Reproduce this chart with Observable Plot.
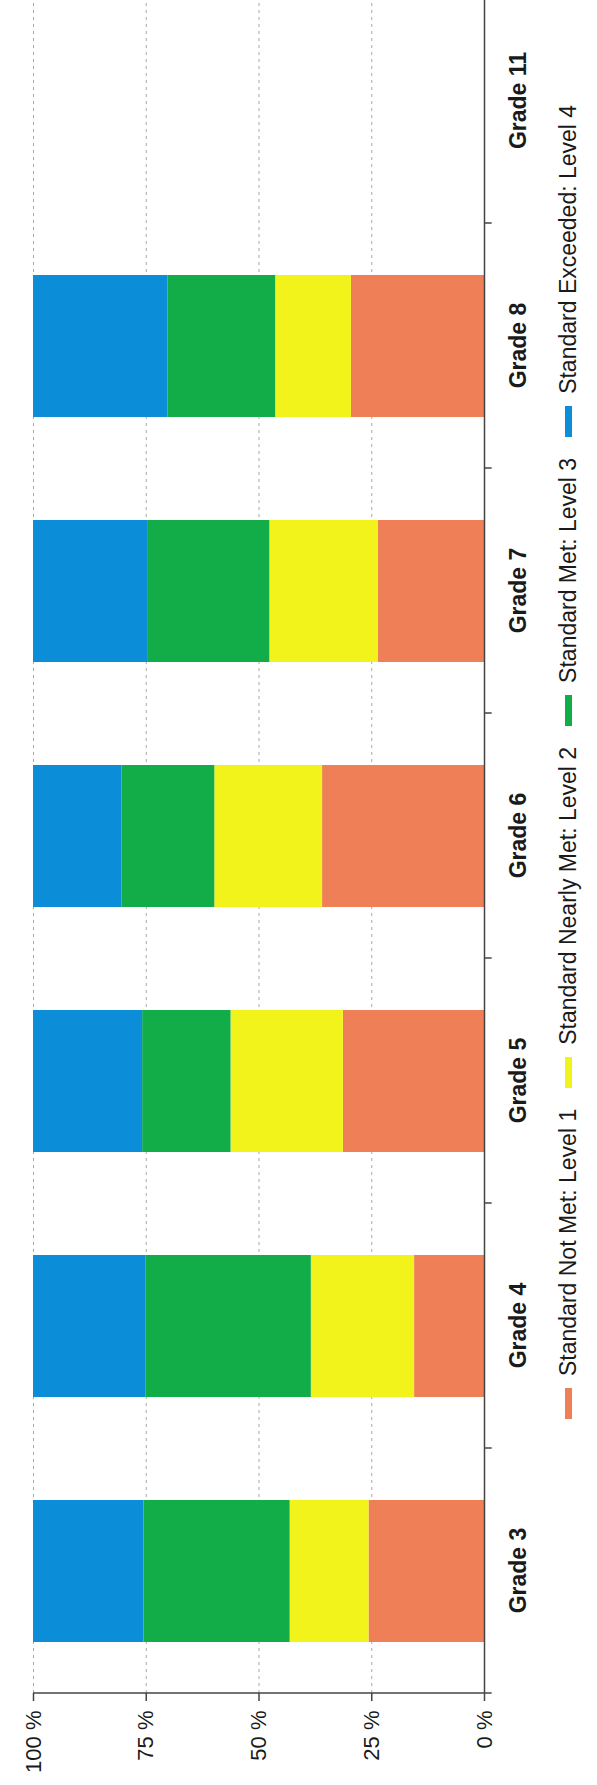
<!DOCTYPE html>
<html><head><meta charset="utf-8">
<script src="https://cdn.jsdelivr.net/npm/d3@7"></script>
<script src="https://cdn.jsdelivr.net/npm/@observablehq/plot@0.6"></script>
<style>
html,body{margin:0;padding:0;background:#fff;overflow:hidden;width:597px;height:1785px;}
#wrap{position:absolute;left:0;top:0;width:1785px;height:597px;transform-origin:0 0;transform:translate(0,1785px) rotate(-90deg);font-family:"Liberation Sans",Arial,sans-serif;background:#fff;}
#legend{position:relative;height:57px;display:flex;align-items:center;padding-left:366px;gap:21px;}
.item{display:flex;align-items:center;font-size:23px;color:#1a1a1a;white-space:nowrap;}
.sw{width:31px;height:7px;margin-right:12px;}
</style></head><body><div id="wrap"></div>
<script>
const grades = ["Grade 3","Grade 4","Grade 5","Grade 6","Grade 7","Grade 8","Grade 11"];
const levels = ["Standard Not Met: Level 1","Standard Nearly Met: Level 2","Standard Met: Level 3","Standard Exceeded: Level 4"];
const levelColors = ["#ee7f56","#f3f31c","#12ad49","#0b8ed7"];
const notMet     = [25.6, 15.5, 31.3, 35.9, 23.5, 29.5, null];
const nearlyMet  = [17.5, 22.9, 24.9, 23.9, 24.1, 16.8, null];
const met        = [32.4, 36.7, 19.6, 20.6, 27.1, 23.9, null];
const exceeded   = [24.5, 24.9, 24.2, 19.6, 25.3, 29.8, null];
const yTicks = [0, 25, 50, 75, 100];

const series = [notMet, nearlyMet, met, exceeded];
const data = [];
grades.forEach((g, i) => series.forEach((s, j) => {
  if (s[i] != null) data.push({grade: g, level: levels[j], value: s[i]});
}));

const xRange = [92, 1807];
const step = (xRange[1] - xRange[0]) / grades.length;

const chart = Plot.plot({
  width: 1785, height: 540,
  marginLeft: 92, marginRight: 0, marginTop: 33, marginBottom: 56,
  style: {fontFamily: "Liberation Sans, Arial, sans-serif", background: "white", color: "#1a1a1a"},
  x: {domain: grades, range: xRange, paddingInner: 0.42, paddingOuter: 0.21, label: null},
  y: {domain: [0, 100], range: [484, 33], label: null},
  color: {domain: levels, range: levelColors},
  marks: [
    Plot.ruleY(yTicks.slice(1), {stroke: "#a8a8a8", strokeDasharray: "3,4", strokeWidth: 1}),
    Plot.barY(data, {x: "grade", y: "value", fill: "level", order: levels}),
    Plot.ruleY([0], {stroke: "#444", strokeWidth: 1.5}),
    Plot.ruleX([grades[0]], {x: d => d, y1: 0, y2: 100, dx: -step / 2, stroke: "#444", strokeWidth: 1.5}),
    Plot.ruleX(grades, {x: d => d, y1: 0, y2: -1.7, dx: -step / 2, stroke: "#444", strokeWidth: 1.5}),
    Plot.axisY({ticks: yTicks, tickFormat: d => d + " %", tickSize: 8, tickPadding: 10, fontSize: 22, stroke: "#444", strokeWidth: 1.5, label: null}),
    Plot.axisX({tickSize: 0, tickPadding: 25, fontSize: 23, fontWeight: "bold", label: null})
  ]
});

const wrap = document.getElementById("wrap");
wrap.appendChild(chart);
const legend = document.createElement("div");
legend.id = "legend";
levels.forEach((l, i) => {
  const it = document.createElement("div");
  it.className = "item";
  const sw = document.createElement("span");
  sw.className = "sw";
  sw.style.background = levelColors[i];
  it.appendChild(sw);
  it.appendChild(document.createTextNode(l));
  legend.appendChild(it);
});
wrap.appendChild(legend);
</script>
</body></html>
